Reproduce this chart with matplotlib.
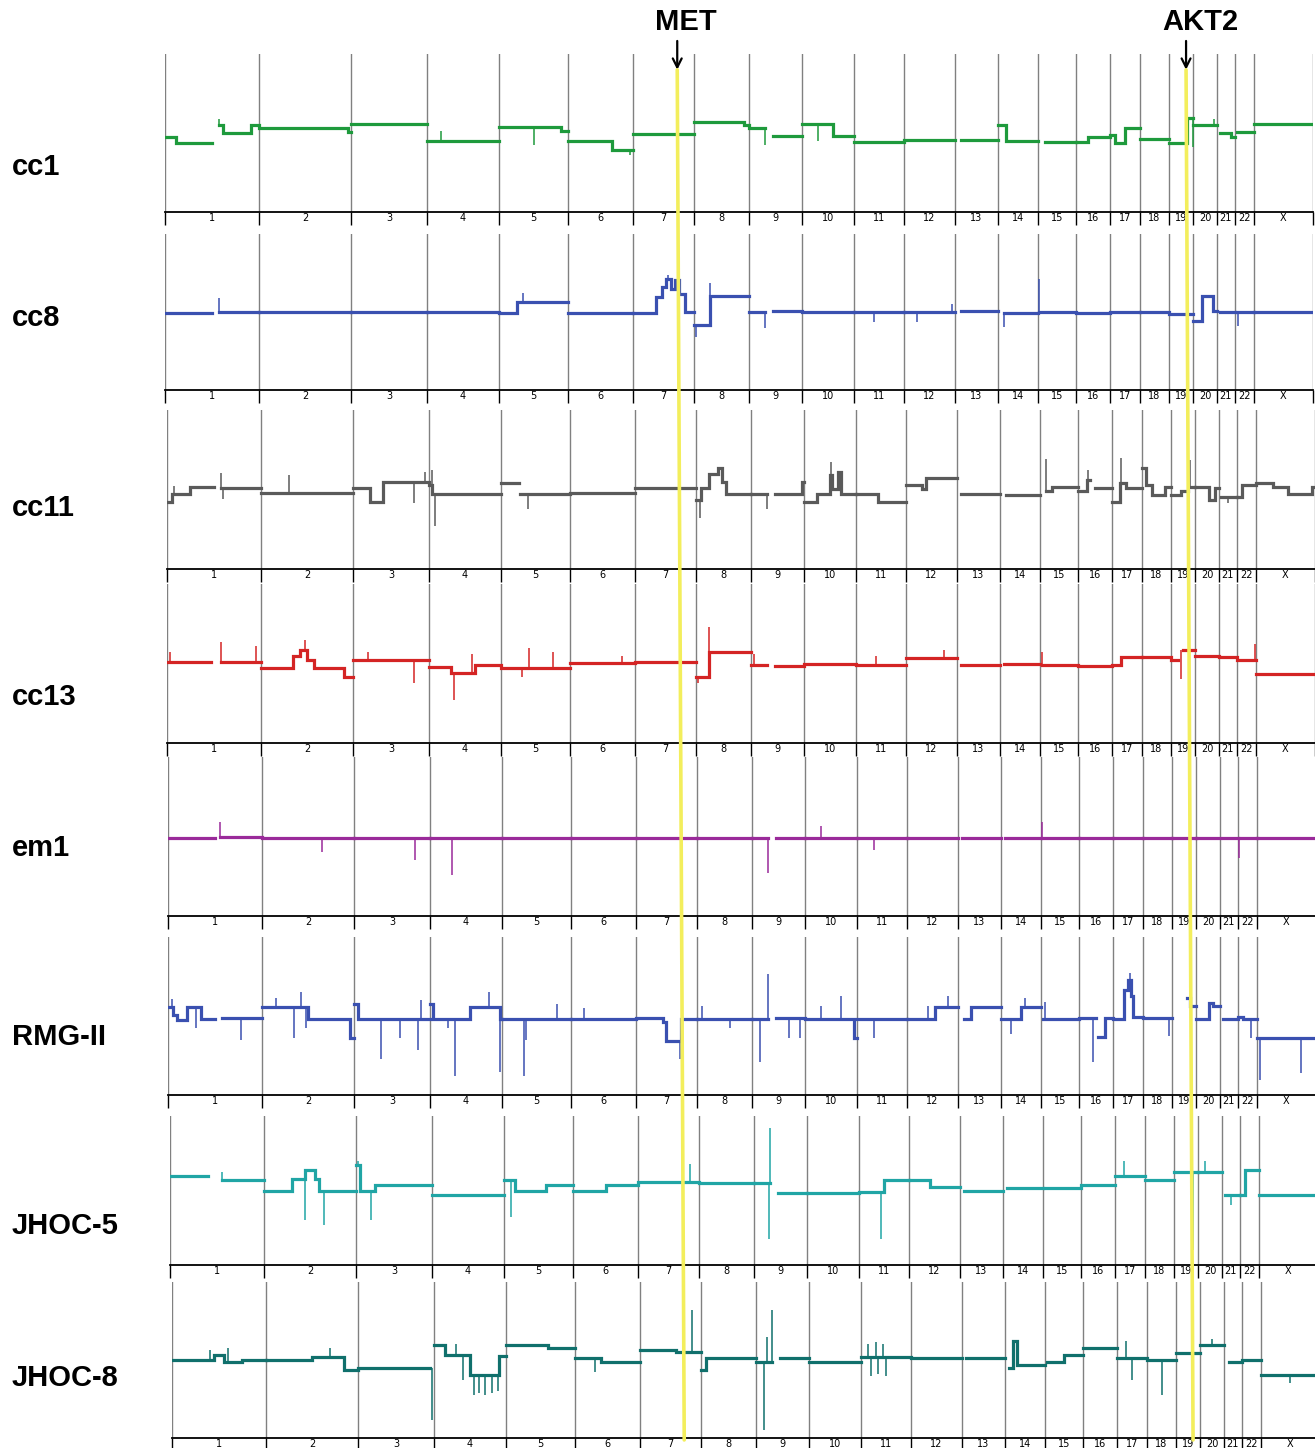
import matplotlib.pyplot as plt
import numpy as np
from matplotlib.patches import ConnectionPatch

# chromosome layout (Mb)
CHROMS = ["1", "2", "3", "4", "5", "6", "7", "8", "9", "10", "11", "12",
          "13", "14", "15", "16", "17", "18", "19", "20", "21", "22", "X"]
CHROM_MB = [247, 243, 199, 191, 181, 171, 159, 146, 140, 135, 134, 132,
            114, 106, 100, 89, 79, 76, 64, 62, 47, 50, 155]

# genes marked on top (chromosome, position in Mb)
MET = ("7", 116)
AKT2 = ("19", 45)

SAMPLES = ["cc1", "cc8", "cc11", "cc13", "em1", "RMG-II", "JHOC-5", "JHOC-8"]
COLORS = ["#1e9a3c", "#3a50b0", "#5a5a5a", "#d42424", "#9a2a9a", "#3a50b0", "#20a5a5", "#10706c"]

# segments: (chromosome, start fraction, end fraction, log2 ratio)
# spikes:   (chromosome, fraction, log2 ratio)
cc1_segments = [
    ("1", 0.0, 0.12, -0.10), ("1", 0.12, 0.5, -0.25), ("1", 0.58, 0.62, 0.20), ("1", 0.62, 0.92, 0.0), ("1", 0.92, 1.0, 0.20),
    ("2", 0.0, 0.97, 0.12), ("2", 0.97, 1.0, 0.02), ("3", 0.0, 1.0, 0.23), ("4", 0.0, 1.0, -0.19),
    ("5", 0.0, 0.9, 0.14), ("5", 0.9, 1.0, 0.06), ("6", 0.0, 0.68, -0.20), ("6", 0.68, 1.0, -0.43),
    ("7", 0.0, 1.0, -0.03), ("8", 0.0, 0.9, 0.29), ("8", 0.9, 1.0, 0.20),
    ("9", 0.0, 0.3, 0.13), ("9", 0.45, 1.0, -0.08), ("10", 0.0, 0.6, 0.22), ("10", 0.6, 1.0, -0.08),
    ("11", 0.0, 1.0, -0.22), ("12", 0.0, 1.0, -0.18), ("13", 0.15, 1.0, -0.18),
    ("14", 0.0, 0.2, 0.20), ("14", 0.2, 1.0, -0.20), ("15", 0.18, 1.0, -0.22),
    ("16", 0.0, 0.35, -0.22), ("16", 0.35, 1.0, -0.10),
    ("17", 0.0, 0.15, -0.05), ("17", 0.15, 0.5, -0.25), ("17", 0.5, 1.0, 0.12), ("18", 0.0, 1.0, -0.16),
    ("19", 0.0, 0.75, -0.25), ("19", 0.75, 1.0, 0.38), ("20", 0.0, 1.0, 0.20),
    ("21", 0.2, 0.8, 0.0), ("21", 0.8, 1.0, -0.10), ("22", 0.1, 1.0, 0.03), ("X", 0.0, 1.0, 0.23),
]
cc1_spikes = [("1", 0.58, 0.35), ("4", 0.2, 0.05), ("5", 0.5, -0.3), ("6", 0.95, -0.55),
              ("7", 0.73, 1.16), ("9", 0.3, -0.3), ("10", 0.3, -0.2), ("19", 0.98, -0.35), ("20", 0.9, 0.35)]

cc8_segments = [
    ("1", 0.0, 0.5, -0.03), ("1", 0.58, 1.0, 0.0), ("2", 0.0, 1.0, 0.0), ("3", 0.0, 1.0, 0.0), ("4", 0.0, 1.0, 0.0),
    ("5", 0.0, 0.25, -0.03), ("5", 0.25, 1.0, 0.26), ("6", 0.0, 1.0, -0.02),
    ("7", 0.0, 0.37, -0.02), ("7", 0.37, 0.47, 0.38), ("7", 0.47, 0.55, 0.65), ("7", 0.55, 0.62, 0.85),
    ("7", 0.62, 0.7, 0.60), ("7", 0.7, 0.76, 0.82), ("7", 0.76, 0.86, 0.45), ("7", 0.86, 1.0, 0.0),
    ("8", 0.0, 0.3, -0.33), ("8", 0.3, 1.0, 0.41), ("9", 0.0, 0.3, 0.0), ("9", 0.45, 1.0, 0.03),
    ("10", 0.0, 1.0, 0.0), ("11", 0.0, 1.0, 0.0), ("12", 0.0, 1.0, 0.0), ("13", 0.15, 1.0, 0.02),
    ("14", 0.15, 1.0, -0.02), ("15", 0.03, 1.0, 0.0), ("16", 0.0, 1.0, -0.03), ("17", 0.0, 1.0, 0.0),
    ("18", 0.0, 1.0, 0.0), ("19", 0.0, 1.0, -0.05),
    ("20", 0.0, 0.35, -0.22), ("20", 0.35, 0.85, 0.40), ("20", 0.85, 1.0, 0.02),
    ("21", 0.15, 1.0, 0.0), ("22", 0.1, 1.0, 0.0), ("X", 0.0, 1.0, 0.0),
]
cc8_spikes = [("1", 0.58, 0.36), ("5", 0.35, 0.5), ("7", 0.58, 0.95), ("7", 0.87, 0.45),
              ("8", 0.05, -0.64), ("8", 0.3, 0.74), ("9", 0.3, -0.4), ("11", 0.4, -0.25),
              ("12", 0.25, -0.25), ("12", 0.95, 0.2), ("14", 0.15, -0.38), ("15", 0.03, 0.85), ("22", 0.15, -0.35)]

cc11_segments = [
    ("1", 0.0, 0.05, -0.32), ("1", 0.05, 0.25, -0.11), ("1", 0.25, 0.5, 0.06), ("1", 0.58, 1.0, 0.04),
    ("2", 0.0, 1.0, -0.09), ("3", 0.0, 0.22, 0.04), ("3", 0.22, 0.4, -0.32), ("3", 0.4, 1.0, 0.19),
    ("4", 0.0, 0.05, 0.12), ("4", 0.05, 1.0, -0.11), ("5", 0.0, 0.25, 0.16), ("5", 0.27, 1.0, -0.11),
    ("6", 0.0, 1.0, -0.09), ("7", 0.0, 1.0, 0.04),
    ("8", 0.0, 0.1, -0.27), ("8", 0.1, 0.25, 0.05), ("8", 0.25, 0.4, 0.40), ("8", 0.4, 0.48, 0.54),
    ("8", 0.48, 0.55, 0.19), ("8", 0.55, 1.0, -0.11),
    ("9", 0.0, 0.3, -0.11), ("9", 0.45, 0.95, -0.11), ("9", 0.95, 1.0, 0.19),
    ("10", 0.0, 0.25, -0.32), ("10", 0.25, 0.5, -0.11), ("10", 0.5, 0.55, 0.37), ("10", 0.55, 0.65, 0.0),
    ("10", 0.65, 0.72, 0.44), ("10", 0.72, 1.0, -0.11),
    ("11", 0.0, 0.45, -0.11), ("11", 0.45, 1.0, -0.32),
    ("12", 0.0, 0.3, 0.11), ("12", 0.3, 0.38, 0.0), ("12", 0.38, 1.0, 0.29),
    ("13", 0.1, 1.0, -0.11), ("14", 0.15, 1.0, -0.14), ("15", 0.15, 0.3, -0.05), ("15", 0.3, 1.0, 0.06),
    ("16", 0.0, 0.25, -0.05), ("16", 0.25, 0.35, 0.24), ("16", 0.5, 1.0, 0.04),
    ("17", 0.0, 0.25, -0.32), ("17", 0.25, 0.45, 0.16), ("17", 0.45, 1.0, 0.04),
    ("18", 0.0, 0.15, 0.54), ("18", 0.15, 0.35, 0.11), ("18", 0.35, 0.8, -0.14), ("18", 0.8, 1.0, 0.06),
    ("19", 0.0, 0.4, -0.14), ("19", 0.4, 0.7, -0.05), ("19", 0.8, 1.0, 0.06),
    ("20", 0.0, 0.6, 0.06), ("20", 0.6, 0.85, -0.27), ("20", 0.85, 1.0, 0.04),
    ("21", 0.1, 1.0, -0.19), ("22", 0.0, 0.3, -0.19), ("22", 0.3, 1.0, 0.11),
    ("X", 0.0, 0.3, 0.16), ("X", 0.3, 0.55, 0.06), ("X", 0.55, 0.95, -0.11), ("X", 0.95, 1.0, 0.06),
]
cc11_spikes = [("1", 0.07, 0.1), ("1", 0.58, 0.41), ("1", 0.6, -0.25), ("2", 0.3, 0.37), ("3", 0.8, -0.34),
               ("3", 0.95, 0.45), ("4", 0.04, 0.49), ("4", 0.08, -0.92), ("5", 0.38, -0.5), ("8", 0.08, -0.72),
               ("9", 0.3, -0.5), ("10", 0.52, 0.7), ("15", 0.15, 0.77), ("16", 0.3, 0.5), ("17", 0.3, 0.8),
               ("19", 0.8, 0.75), ("21", 0.5, -0.35)]

cc13_segments = [
    ("1", 0.0, 0.47, 0.04), ("1", 0.57, 1.0, 0.04),
    ("2", 0.0, 0.35, -0.11), ("2", 0.35, 0.42, 0.20), ("2", 0.42, 0.5, 0.35), ("2", 0.5, 0.58, 0.10),
    ("2", 0.58, 0.9, -0.11), ("2", 0.9, 1.0, -0.34), ("3", 0.0, 1.0, 0.09),
    ("4", 0.0, 0.3, -0.09), ("4", 0.3, 0.63, -0.23), ("4", 0.63, 1.0, -0.05),
    ("5", 0.0, 1.0, -0.11), ("6", 0.0, 1.0, 0.01), ("7", 0.0, 1.0, 0.04),
    ("8", 0.0, 0.25, -0.34), ("8", 0.25, 1.0, 0.29), ("9", 0.0, 0.3, -0.04), ("9", 0.45, 1.0, -0.06),
    ("10", 0.0, 1.0, -0.02), ("11", 0.0, 1.0, -0.04), ("12", 0.0, 1.0, 0.14), ("13", 0.1, 1.0, -0.05),
    ("14", 0.1, 1.0, 0.0), ("15", 0.05, 1.0, -0.05), ("16", 0.0, 1.0, -0.06),
    ("17", 0.0, 0.3, -0.04), ("17", 0.3, 1.0, 0.16), ("18", 0.0, 1.0, 0.16),
    ("19", 0.0, 0.3, 0.10), ("19", 0.5, 1.0, 0.34), ("20", 0.0, 1.0, 0.20), ("21", 0.0, 1.0, 0.17),
    ("22", 0.0, 1.0, 0.09), ("X", 0.0, 1.0, -0.27),
]
cc13_spikes = [("1", 0.03, 0.3), ("1", 0.57, 0.55), ("1", 0.95, 0.45), ("2", 0.48, 0.6), ("3", 0.2, 0.3),
               ("3", 0.8, -0.49), ("4", 0.35, -0.92), ("4", 0.6, 0.25), ("5", 0.3, -0.35), ("5", 0.4, 0.4),
               ("5", 0.75, 0.3), ("6", 0.8, 0.2), ("8", 0.05, -0.5), ("8", 0.25, 0.93), ("9", 0.05, 0.25),
               ("11", 0.4, 0.2), ("12", 0.75, 0.35), ("15", 0.05, 0.3), ("19", 0.4, -0.4), ("22", 0.95, 0.5)]

em1_segments = [
    ("1", 0.0, 0.5, -0.04), ("1", 0.55, 1.0, -0.02), ("2", 0.0, 1.0, -0.04), ("3", 0.0, 1.0, -0.04),
    ("4", 0.0, 1.0, -0.04), ("5", 0.0, 1.0, -0.04), ("6", 0.0, 1.0, -0.04), ("7", 0.0, 1.0, -0.04),
    ("8", 0.0, 1.0, -0.04), ("9", 0.0, 0.3, -0.04), ("9", 0.45, 1.0, -0.04), ("10", 0.0, 1.0, -0.04),
    ("11", 0.0, 1.0, -0.04), ("12", 0.0, 1.0, -0.04), ("13", 0.1, 1.0, -0.04), ("14", 0.1, 1.0, -0.04),
    ("15", 0.03, 1.0, -0.04), ("16", 0.0, 1.0, -0.04), ("17", 0.0, 1.0, -0.04), ("18", 0.0, 1.0, -0.04),
    ("19", 0.0, 1.0, -0.04), ("20", 0.0, 1.0, -0.04), ("21", 0.2, 1.0, -0.04), ("22", 0.1, 1.0, -0.04),
    ("X", 0.0, 1.0, -0.04),
]
em1_spikes = [("1", 0.55, 0.37), ("2", 0.65, -0.4), ("3", 0.8, -0.6), ("4", 0.3, -0.97), ("9", 0.3, -0.92),
              ("10", 0.3, 0.27), ("11", 0.35, -0.35), ("15", 0.03, 0.37), ("22", 0.05, -0.55)]

rmg2_segments = [
    ("1", 0.0, 0.05, 0.23), ("1", 0.05, 0.1, 0.03), ("1", 0.1, 0.2, -0.10), ("1", 0.2, 0.35, 0.23),
    ("1", 0.35, 0.5, -0.08), ("1", 0.58, 1.0, -0.05),
    ("2", 0.0, 0.5, 0.23), ("2", 0.5, 0.95, -0.08), ("2", 0.95, 1.0, -0.56),
    ("3", 0.0, 0.05, 0.30), ("3", 0.05, 1.0, -0.08),
    ("4", 0.0, 0.05, 0.30), ("4", 0.05, 0.55, -0.08), ("4", 0.55, 0.97, 0.23), ("4", 0.97, 1.0, -0.08),
    ("5", 0.0, 1.0, -0.08), ("6", 0.0, 1.0, -0.08),
    ("7", 0.0, 0.45, -0.06), ("7", 0.45, 0.5, -0.15), ("7", 0.5, 0.75, -0.63), ("7", 0.75, 1.0, -0.08),
    ("8", 0.0, 1.0, -0.08), ("9", 0.0, 0.3, -0.08), ("9", 0.45, 1.0, -0.06),
    ("10", 0.0, 0.95, -0.08), ("10", 0.95, 1.0, -0.56), ("11", 0.0, 1.0, -0.08),
    ("12", 0.0, 0.55, -0.08), ("12", 0.55, 1.0, 0.23), ("13", 0.15, 0.3, -0.08), ("13", 0.3, 1.0, 0.23),
    ("14", 0.0, 0.5, -0.08), ("14", 0.5, 1.0, 0.23), ("15", 0.05, 1.0, -0.08),
    ("16", 0.0, 0.5, -0.06), ("16", 0.55, 0.75, -0.53), ("16", 0.75, 1.0, -0.06),
    ("17", 0.0, 0.35, -0.08), ("17", 0.35, 0.5, 0.66), ("17", 0.5, 0.6, 0.90), ("17", 0.6, 0.65, 0.50),
    ("17", 0.65, 1.0, -0.02), ("18", 0.0, 1.0, -0.06),
    ("19", 0.6, 0.75, 0.46), ("19", 0.75, 1.0, 0.25),
    ("20", 0.0, 0.55, -0.08), ("20", 0.55, 0.7, 0.33), ("20", 0.7, 1.0, 0.25),
    ("21", 0.2, 1.0, -0.08), ("22", 0.0, 0.3, -0.02), ("22", 0.3, 1.0, -0.08), ("X", 0.0, 1.0, -0.56),
]
rmg2_spikes = [("1", 0.04, 0.42), ("1", 0.3, -0.3), ("1", 0.78, -0.6), ("2", 0.15, 0.45), ("2", 0.35, -0.55),
               ("2", 0.42, 0.6), ("2", 0.48, -0.3), ("3", 0.35, -1.09), ("3", 0.6, -0.55), ("3", 0.85, -0.86),
               ("3", 0.88, 0.4), ("4", 0.25, -0.3), ("4", 0.35, -1.52), ("4", 0.82, 0.6), ("4", 0.97, -1.42),
               ("5", 0.32, -1.52), ("5", 0.35, -0.6), ("5", 0.8, 0.3), ("6", 0.2, 0.2), ("7", 0.73, -1.09),
               ("8", 0.1, 0.25), ("8", 0.6, -0.3), ("9", 0.15, -1.16), ("9", 0.3, 1.06), ("9", 0.7, -0.55),
               ("9", 0.9, -0.55), ("10", 0.3, 0.25), ("10", 0.7, 0.5), ("11", 0.35, -0.55), ("12", 0.4, 0.25),
               ("12", 0.8, 0.5), ("14", 0.25, -0.45), ("14", 0.6, 0.45), ("15", 0.1, 0.35), ("16", 0.4, -1.16),
               ("17", 0.55, 1.08), ("18", 0.9, -0.5), ("22", 0.7, -0.55), ("X", 0.05, -1.62), ("X", 0.75, -1.45)]

jhoc5_segments = [
    ("1", 0.0, 0.4, 0.39), ("1", 0.55, 1.0, 0.28),
    ("2", 0.0, 0.3, 0.0), ("2", 0.3, 0.45, 0.30), ("2", 0.45, 0.55, 0.55), ("2", 0.55, 0.6, 0.30), ("2", 0.6, 1.0, 0.0),
    ("3", 0.0, 0.05, 0.68), ("3", 0.05, 0.25, 0.0), ("3", 0.25, 1.0, 0.15), ("4", 0.0, 1.0, -0.12),
    ("5", 0.0, 0.15, 0.28), ("5", 0.15, 0.6, 0.0), ("5", 0.6, 1.0, 0.15),
    ("6", 0.0, 0.5, 0.0), ("6", 0.5, 1.0, 0.15), ("7", 0.0, 1.0, 0.23), ("8", 0.0, 1.0, 0.20),
    ("9", 0.0, 0.3, 0.20), ("9", 0.45, 1.0, -0.07), ("10", 0.0, 1.0, -0.07),
    ("11", 0.0, 0.5, -0.04), ("11", 0.5, 1.0, 0.28), ("12", 0.0, 0.4, 0.28), ("12", 0.4, 1.0, 0.10),
    ("13", 0.1, 1.0, 0.0), ("14", 0.1, 1.0, 0.07), ("15", 0.05, 1.0, 0.07), ("16", 0.0, 1.0, 0.15),
    ("17", 0.0, 1.0, 0.40), ("18", 0.0, 1.0, 0.28), ("19", 0.0, 1.0, 0.50), ("20", 0.0, 1.0, 0.50),
    ("21", 0.2, 1.0, -0.12), ("22", 0.0, 0.3, -0.12), ("22", 0.3, 1.0, 0.55), ("X", 0.0, 1.0, -0.12),
]
jhoc5_spikes = [("1", 0.55, 0.5), ("2", 0.45, -0.8), ("2", 0.65, -0.92), ("3", 0.02, 0.8), ("3", 0.2, -0.8),
                ("5", 0.1, -0.7), ("7", 0.85, 0.7), ("9", 0.3, 1.67), ("9", 0.29, -1.3), ("11", 0.45, -1.3),
                ("17", 0.3, 0.8), ("19", 0.8, -1.6), ("20", 0.3, 0.8), ("21", 0.5, -0.4)]

jhoc8_segments = [
    ("1", 0.0, 0.45, 0.0), ("1", 0.45, 0.55, 0.12), ("1", 0.55, 0.75, -0.05), ("1", 0.75, 1.0, 0.0),
    ("2", 0.0, 0.5, 0.0), ("2", 0.5, 0.85, 0.08), ("2", 0.85, 1.0, -0.26), ("3", 0.0, 0.95, -0.20),
    ("4", 0.0, 0.15, 0.38), ("4", 0.15, 0.5, 0.13), ("4", 0.5, 0.9, -0.38), ("4", 0.9, 1.0, 0.10),
    ("5", 0.0, 0.6, 0.38), ("5", 0.6, 1.0, 0.30), ("6", 0.0, 0.4, 0.05), ("6", 0.4, 1.0, -0.05),
    ("7", 0.0, 0.6, 0.26), ("7", 0.6, 1.0, 0.20), ("8", 0.0, 0.1, -0.26), ("8", 0.1, 1.0, 0.05),
    ("9", 0.0, 0.3, -0.05), ("9", 0.45, 1.0, 0.05), ("10", 0.0, 1.0, -0.05), ("11", 0.0, 1.0, 0.08),
    ("12", 0.0, 1.0, 0.05), ("13", 0.1, 1.0, 0.05),
    ("14", 0.1, 0.2, -0.20), ("14", 0.2, 0.3, 0.50), ("14", 0.3, 1.0, -0.13),
    ("15", 0.05, 0.5, -0.05), ("15", 0.5, 1.0, 0.13), ("16", 0.0, 1.0, 0.30), ("17", 0.0, 1.0, 0.05),
    ("18", 0.0, 1.0, 0.0), ("19", 0.0, 1.0, 0.18), ("20", 0.0, 1.0, 0.38), ("21", 0.3, 1.0, -0.05),
    ("22", 0.0, 1.0, 0.0), ("X", 0.0, 1.0, -0.38),
]
jhoc8_spikes = [("1", 0.4, 0.25), ("1", 0.6, 0.3), ("2", 0.7, 0.3), ("3", 0.98, -1.54), ("4", 0.3, 0.4),
                ("4", 0.4, -0.5), ("4", 0.55, -0.9), ("4", 0.62, -0.85), ("4", 0.7, -0.9), ("4", 0.8, -0.85),
                ("4", 0.88, -0.8), ("6", 0.3, -0.3), ("7", 0.85, 1.28), ("9", 0.15, -1.8), ("9", 0.2, 0.6),
                ("9", 0.3, 1.28), ("11", 0.15, 0.4), ("11", 0.2, -0.4), ("11", 0.3, 0.45), ("11", 0.35, -0.35),
                ("11", 0.45, 0.4), ("11", 0.5, -0.4), ("17", 0.3, 0.5), ("17", 0.5, -0.5), ("18", 0.5, -0.9),
                ("20", 0.5, 0.55), ("X", 0.5, -0.6)]

SEGMENTS = [cc1_segments, cc8_segments, cc11_segments, cc13_segments,
            em1_segments, rmg2_segments, jhoc5_segments, jhoc8_segments]
SPIKES = [cc1_spikes, cc8_spikes, cc11_spikes, cc13_spikes,
          em1_spikes, rmg2_spikes, jhoc5_spikes, jhoc8_spikes]

# panel placement in pixels: (left, top, bottom axis line)
PANEL_LEFT = [165, 165, 167, 167, 168, 168, 170, 172]
PANEL_TOP = [54, 234, 410, 584, 757, 937, 1116, 1282]
PANEL_BOTTOM = [212, 390, 569, 743, 916, 1095, 1265, 1438]
LABEL_Y = [167, 318, 508, 697, 848, 1037, 1226, 1378]

W, H = 1315, 1448
offsets = np.concatenate([[0], np.cumsum(CHROM_MB)])
centers = offsets[:-1] + np.array(CHROM_MB) / 2
X_MAX = 3022
PX_PER_MB = 0.38


def gpos(chrom, frac):
    i = CHROMS.index(chrom)
    return offsets[i] + frac * CHROM_MB[i]


def base_level(segments, chrom, frac):
    best, dist = 0.0, 1e9
    for c, f0, f1, lvl in segments:
        if c != chrom:
            continue
        if f0 <= frac <= f1:
            return lvl
        d = min(abs(frac - f0), abs(frac - f1))
        if d < dist:
            best, dist = lvl, d
    return best


def draw_profile(ax, segments, spikes, color):
    xs, ys = [], []
    prev = None
    for c, f0, f1, lvl in segments:
        if prev is not None and not (prev[0] == c and abs(prev[1] - f0) < 1e-9):
            xs.append(np.nan)
            ys.append(np.nan)
        xs += [gpos(c, f0), gpos(c, f1)]
        ys += [lvl, lvl]
        prev = (c, f1)
    ax.plot(xs, ys, color=color, lw=2.3, solid_joinstyle="miter", zorder=3)
    sx = [gpos(c, f) for c, f, v in spikes]
    sb = [base_level(segments, c, f) for c, f, v in spikes]
    sv = [v for c, f, v in spikes]
    ax.vlines(sx, sb, sv, color=color, lw=1.1, zorder=3)


fig = plt.figure(figsize=(W / 100, H / 100), dpi=100)
axes = []
for k, name in enumerate(SAMPLES):
    left = PANEL_LEFT[k] / W
    bottom = 1 - PANEL_BOTTOM[k] / H
    height = (PANEL_BOTTOM[k] - PANEL_TOP[k]) / H
    width = X_MAX * PX_PER_MB / W
    ax = fig.add_axes([left, bottom, width, height])
    ax.set_xlim(0, X_MAX)
    ax.set_ylim(-2, 2)
    for sp in ("top", "left", "right"):
        ax.spines[sp].set_visible(False)
    ax.spines["bottom"].set_linewidth(1.3)
    for b in offsets:
        ax.axvline(b, color="#808080", lw=1.0, zorder=1)
    ax.set_yticks([])
    ax.set_xticks(offsets)
    ax.set_xticklabels([])
    ax.tick_params(axis="x", which="major", direction="out", length=9, width=1.0, color="black")
    ax.set_xticks(centers, minor=True)
    ax.set_xticklabels(CHROMS, minor=True, fontsize=7, family="DejaVu Sans")
    ax.tick_params(axis="x", which="minor", length=0, pad=1)
    draw_profile(ax, SEGMENTS[k], SPIKES[k], COLORS[k])
    fig.text(12 / W, 1 - LABEL_Y[k] / H, name, fontsize=21, fontweight="bold",
             family="Liberation Sans", ha="left", va="center")
    axes.append(ax)

# gene markers: arrow, label and a yellow guide line through all panels
for gene, dx in ((MET, 23), (AKT2, 37)):
    gx = gpos(gene[0], gene[1] / CHROM_MB[CHROMS.index(gene[0])])
    axes[0].annotate("", xy=(gx, 1.6), xytext=(gx, 2.33), annotation_clip=False,
                     arrowprops=dict(arrowstyle="->", lw=1.6, color="black", mutation_scale=16,
                                     shrinkA=0, shrinkB=0))
    label = "MET" if gene is MET else "AKT2"
    axes[0].text(gx + dx, 2.8, label, fontsize=21, fontweight="bold", family="Liberation Sans",
                 ha="center", va="center", clip_on=False)
    con = ConnectionPatch(xyA=(gx, 1.6), coordsA=axes[0].transData,
                          xyB=(gx, -2.05), coordsB=axes[-1].transData,
                          color="#f3ee5c", lw=2.6, zorder=10)
    fig.add_artist(con)

fig.savefig("out.png", dpi=100)
